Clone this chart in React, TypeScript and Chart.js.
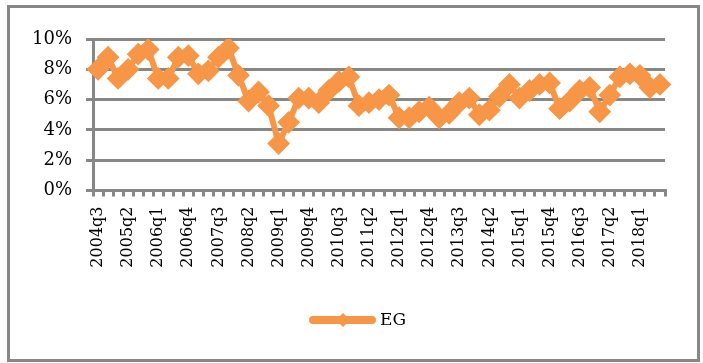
import React, { useEffect, useRef } from "react";
import { Chart, registerables } from "chart.js";

Chart.register(...registerables);

const categories: string[] = [
  "2004q3", "2004q4", "2005q1", "2005q2", "2005q3", "2005q4",
  "2006q1", "2006q2", "2006q3", "2006q4", "2007q1", "2007q2",
  "2007q3", "2007q4", "2008q1", "2008q2", "2008q3", "2008q4",
  "2009q1", "2009q2", "2009q3", "2009q4", "2010q1", "2010q2",
  "2010q3", "2010q4", "2011q1", "2011q2", "2011q3", "2011q4",
  "2012q1", "2012q2", "2012q3", "2012q4", "2013q1", "2013q2",
  "2013q3", "2013q4", "2014q1", "2014q2", "2014q3", "2014q4",
  "2015q1", "2015q2", "2015q3", "2015q4", "2016q1", "2016q2",
  "2016q3", "2016q4", "2017q1", "2017q2", "2017q3", "2017q4",
  "2018q1", "2018q2", "2018q3",
];

const egValues: number[] = [
  8.0, 8.8, 7.4, 8.0, 9.0, 9.3,
  7.4, 7.4, 8.8, 8.9, 7.7, 7.9,
  8.8, 9.4, 7.6, 5.9, 6.5, 5.6,
  3.1, 4.5, 6.1, 6.1, 5.8, 6.6,
  7.2, 7.5, 5.6, 5.8, 6.0, 6.3,
  4.8, 4.8, 5.2, 5.5, 4.8, 5.1,
  5.8, 6.1, 5.0, 5.3, 6.2, 7.0,
  6.1, 6.6, 7.0, 7.1, 5.4, 5.9,
  6.6, 6.8, 5.2, 6.3, 7.5, 7.7,
  7.6, 6.8, 7.0,
];

const seriesName = "EG";
const yTicks: number[] = [0, 2, 4, 6, 8, 10];
const labelEvery = 3;

const ORANGE = "#F79646";
const GRAY = "#878787";
const FONT = "'DejaVu Serif', serif";

export default function App() {
  const canvasRef = useRef<HTMLCanvasElement | null>(null);

  useEffect(() => {
    if (!canvasRef.current) return;
    const chart = new Chart(canvasRef.current, {
      type: "line",
      data: {
        labels: categories,
        datasets: [
          {
            label: seriesName,
            data: egValues,
            borderColor: ORANGE,
            backgroundColor: ORANGE,
            borderWidth: 6,
            pointStyle: "rectRot",
            pointRadius: 10,
            pointBorderWidth: 2,
            pointBorderColor: ORANGE,
            pointBackgroundColor: ORANGE,
            tension: 0,
            borderJoinStyle: "round",
          },
        ],
      },
      options: {
        animation: false,
        responsive: false,
        maintainAspectRatio: false,
        layout: { padding: { left: 0, top: 39, right: 38, bottom: 80 } },
        plugins: {
          legend: { display: false },
          tooltip: { enabled: false },
        },
        scales: {
          x: {
            type: "category",
            offset: true,
            grid: {
              display: true,
              drawOnChartArea: false,
              drawTicks: true,
              offset: true,
              tickLength: 6,
              color: GRAY,
              lineWidth: 3,
            },
            border: { display: true, color: GRAY, width: 3 },
            ticks: {
              autoSkip: false,
              maxRotation: 90,
              minRotation: 90,
              padding: 10,
              color: "#000",
              font: { family: FONT, size: 16 },
              callback: (_v: any, idx: number) =>
                idx % labelEvery === 0 ? categories[idx] : "",
            },
            afterFit: (scale: any) => {
              scale.height = 92.5;
            },
          },
          y: {
            min: yTicks[0],
            max: yTicks[yTicks.length - 1],
            afterBuildTicks: (scale: any) => {
              scale.ticks = yTicks.map((v) => ({ value: v }));
            },
            grid: {
              color: GRAY,
              lineWidth: 3,
              drawTicks: true,
              tickLength: 7,
            },
            border: { display: true, color: GRAY, width: 3 },
            ticks: {
              padding: 14,
              color: "#000",
              font: { family: FONT, size: 18 },
              callback: (v: any) => `${v}%`,
            },
            afterFit: (scale: any) => {
              scale.width = 93;
            },
          },
        },
      },
    });
    return () => chart.destroy();
  }, []);

  return (
    <div
      style={{
        position: "fixed",
        left: 0,
        top: 0,
        width: 703,
        height: 363,
        background: "#fff",
        overflow: "hidden",
      }}
    >
      <canvas
        ref={canvasRef}
        width={703}
        height={363}
        style={{ position: "absolute", left: 0, top: 0, width: 703, height: 363 }}
      />
      <div
        style={{
          position: "absolute",
          left: 7,
          top: 5,
          width: 693,
          height: 357,
          border: `3px solid ${GRAY}`,
          boxSizing: "border-box",
          pointerEvents: "none",
        }}
      />
      <div
        style={{
          position: "absolute",
          left: 309,
          top: 316,
          width: 67,
          height: 8,
          borderRadius: 4,
          background: ORANGE,
        }}
      />
      <div
        style={{
          position: "absolute",
          left: 338,
          top: 315,
          width: 10,
          height: 10,
          background: ORANGE,
          transform: "rotate(45deg)",
        }}
      />
      <span
        style={{
          position: "absolute",
          left: 380,
          top: 309,
          fontFamily: FONT,
          fontSize: 17,
          lineHeight: "20px",
          color: "#000",
        }}
      >
        {seriesName}
      </span>
    </div>
  );
}
